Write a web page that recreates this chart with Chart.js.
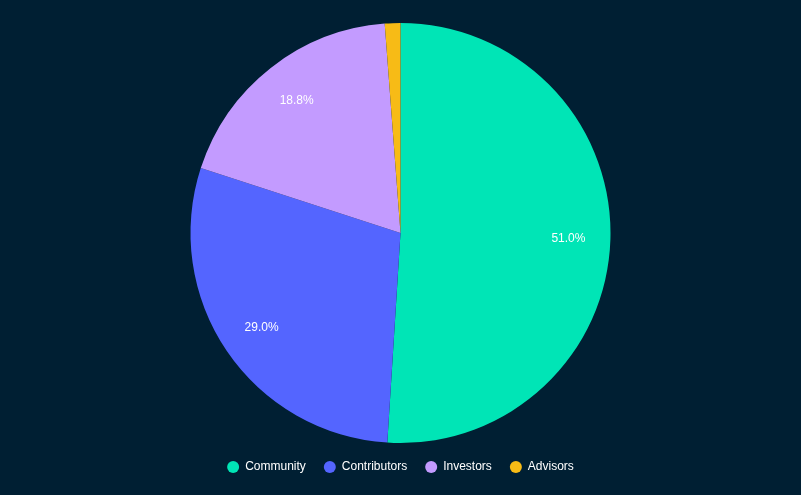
<!DOCTYPE html>
<html>
<head>
<meta charset="utf-8">
<script src="https://cdn.jsdelivr.net/npm/chart.js@4/dist/chart.umd.min.js"></script>
<style>
  html,body{margin:0;padding:0;background:#001f33}
  #wrap{width:801px;height:495px}
</style>
</head>
<body>
<div id="wrap"><canvas id="c"></canvas></div>
<script>
const labels = ['Community','Contributors','Investors','Advisors']
const shares = [51.0, 29.0, 18.8, 1.2]
const colors = ['#00e5b6','#5465ff','#c39bff','#f7bb16']

// percent labels drawn inside the slices (skip tiny ones)
const sliceLabels = {
  id:'sliceLabels',
  afterDatasetsDraw(chart){
    const ctx = chart.ctx
    const meta = chart.getDatasetMeta(0)
    const total = shares.reduce((a,b)=>a+b,0)
    ctx.save()
    ctx.fillStyle = '#ffffff'
    ctx.font = '12px "Liberation Sans", Arial, sans-serif'
    ctx.textAlign = 'center'
    ctx.textBaseline = 'middle'
    meta.data.forEach((arc,i)=>{
      const pct = shares[i]/total*100
      if(pct < 5) return
      const p = arc.getProps(['x','y','startAngle','endAngle','outerRadius'],true)
      const mid = (p.startAngle+p.endAngle)/2
      const r = p.outerRadius*0.8
      ctx.fillText(pct.toFixed(1)+'%', p.x+Math.cos(mid)*r, p.y+Math.sin(mid)*r)
    })
    ctx.restore()
  }
}

new Chart(document.getElementById('c'),{
  type:'pie',
  data:{labels, datasets:[{data:shares, backgroundColor:colors, borderWidth:0}]},
  options:{
    responsive:true,
    maintainAspectRatio:false,
    animation:false,
    layout:{padding:{top:23,bottom:12}},
    plugins:{
      legend:{
        position:'bottom',
        labels:{
          color:'#ffffff',
          usePointStyle:true,
          pointStyle:'circle',
          boxWidth:12,
          boxHeight:8.5,
          padding:18,
          font:{size:12, family:'"Liberation Sans", Arial, sans-serif'}
        }
      },
      tooltip:{enabled:false}
    }
  },
  plugins:[sliceLabels]
})
</script>
</body>
</html>
